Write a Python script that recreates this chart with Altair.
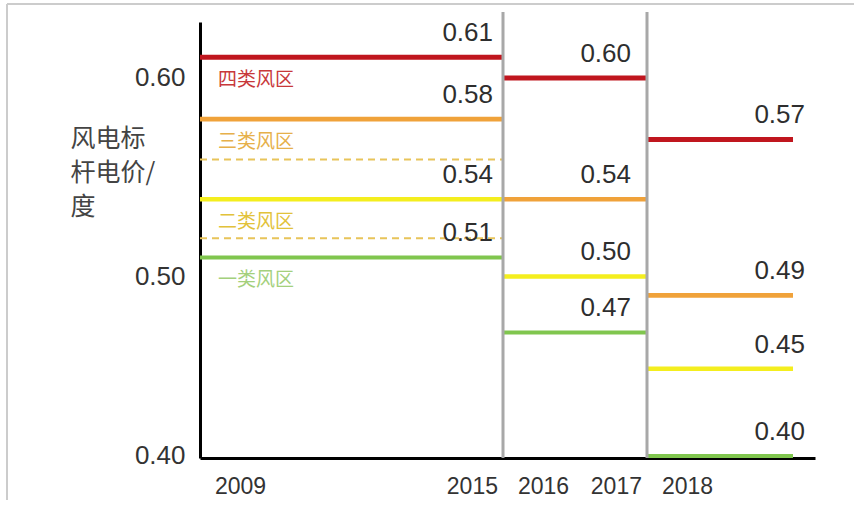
import altair as alt
import pandas as pd

# ---- data ----
periods = ["2009-2015", "2016-2017", "2018"]
period_start = [2009, 2016, 2018]
period_end = [2016, 2018, 2019]
zones = ["四类风区", "三类风区", "二类风区", "一类风区"]
price_2009_2015 = [0.61, 0.58, 0.54, 0.51]
price_2016_2017 = [0.60, 0.54, 0.50, 0.47]
price_2018 = [0.57, 0.49, 0.45, 0.40]
adjusted_2015_zones = ["三类风区", "二类风区"]
adjusted_2015_price = [0.56, 0.52]
year_labels_start = [2009, 2016, 2018]
year_labels_end = [2015, 2017]
y_ticks = [0.40, 0.50, 0.60]
y_title = ["风电标", "杆电价/", "度"]

prices = [price_2009_2015, price_2016_2017, price_2018]
rows = []
for p, s, e, vals in zip(periods, period_start, period_end, prices):
    for z, v in zip(zones, vals):
        rows.append({"period": p, "start": s, "end": e, "zone": z, "price": v,
                     "label": f"{v:.2f}"})
df = pd.DataFrame(rows)

df_adj = pd.DataFrame({"zone": adjusted_2015_zones, "price": adjusted_2015_price,
                       "start": period_start[0], "end": period_end[0]})
df_sep = pd.DataFrame({"start": period_start[1:]})
df_ys = pd.DataFrame({"start": year_labels_start, "label": [str(y) for y in year_labels_start]})
df_ye = pd.DataFrame({"start": [y + 1 for y in year_labels_end],
                      "label": [str(y) for y in year_labels_end]})

# ---- styles ----
line_colors = ["#c0161e", "#f0a23a", "#f4ee1e", "#80c64e"]
label_colors = ["#c8383a", "#e6b04a", "#e2c23a", "#a4d07c"]
line_widths = [5, 4, 6, 4]
NUM_FONT = "Liberation Sans"
CJK_FONT = "Noto Sans CJK SC"

x_scale = alt.Scale(domain=[2009, 2016, 2018, 2019, 2019.15],
                    range=[0, 303, 447, 593, 615])
x_axis = alt.Axis(labels=False, ticks=False, grid=False, domainColor="black",
                  domainWidth=3, title=None)
y_scale = alt.Scale(type="pow", exponent=1.5, domain=[0.3988, 0.6267],
                    nice=False, zero=False)
y_axis = alt.Axis(values=y_ticks, format=".2f", labelFontSize=26, labelFont=NUM_FONT,
                  labelColor="#333333", ticks=False, grid=False, domainColor="black",
                  domainWidth=3, labelPadding=15, title=y_title, titleAngle=0,
                  titleAlign="left", titleBaseline="top", titleX=-130, titleY=104,
                  titleFont=CJK_FONT, titleFontSize=25, titleFontWeight="normal",
                  titleColor="#444444", titleLineHeight=34)

X = alt.X("start:Q", scale=x_scale, axis=x_axis)
Y = alt.Y("price:Q", scale=y_scale, axis=y_axis)

lines = alt.Chart(df).mark_rule().encode(
    x=X, x2="end:Q", y=Y,
    color=alt.Color("zone:N", scale=alt.Scale(domain=zones, range=line_colors), legend=None),
    strokeWidth=alt.StrokeWidth("zone:N", scale=alt.Scale(domain=zones, range=line_widths),
                                legend=None),
)

dashed = alt.Chart(df_adj).mark_rule(strokeDash=[7, 5], strokeWidth=2, color="#e8c45a").encode(
    x=X, x2="end:Q", y=Y)

seps = alt.Chart(df_sep).mark_rule(color="#a8a8a8", strokeWidth=3).encode(
    x=X, y=alt.value(-10), y2=alt.value(436))

def value_labels(period, dx):
    return alt.Chart(df[df["period"] == period]).mark_text(
        align="right", baseline="alphabetic", dx=dx, dy=-16, fontSize=26,
        font=NUM_FONT, color="#2e2e2e").encode(
        x=alt.X("end:Q", scale=x_scale, axis=x_axis), y=Y, text="label:N")

vl1 = value_labels(periods[0], -10)
vl2 = value_labels(periods[1], -16)
vl3 = value_labels(periods[2], 12)

zone_labels = alt.Chart(df[df["period"] == periods[0]]).mark_text(
    align="left", baseline="middle", dx=18, dy=23, fontSize=19, font=CJK_FONT).encode(
    x=X, y=Y, text="zone:N",
    color=alt.Color("zone:N", scale=alt.Scale(domain=zones, range=label_colors), legend=None))

years_s = alt.Chart(df_ys).mark_text(align="left", baseline="middle", dx=15, fontSize=23,
                                     font=NUM_FONT, color="#333333").encode(
    x=X, y=alt.value(465), text="label:N")
years_e = alt.Chart(df_ye).mark_text(align="right", baseline="middle", dx=-5, fontSize=23,
                                     font=NUM_FONT, color="#333333").encode(
    x=X, y=alt.value(465), text="label:N")

frame_top = alt.Chart(df_sep.head(1)).mark_rule(color="#cccccc", strokeWidth=2).encode(
    x=alt.value(-193), x2=alt.value(654), y=alt.value(-18))
frame_left = alt.Chart(df_sep.head(1)).mark_rule(color="#cccccc", strokeWidth=2).encode(
    x=alt.value(-193), y=alt.value(-18), y2=alt.value(478))

chart = alt.layer(
    frame_top, frame_left, dashed, lines, seps, vl1, vl2, vl3, zone_labels, years_s, years_e
).resolve_scale(color="independent").properties(
    width=615, height=436,
    autosize=alt.AutoSizeParams(type="none"),
    padding={"left": 200, "top": 22, "right": 39, "bottom": 48},
    background="white",
).configure_view(stroke=None)

chart.save("out.html", embed_options={"renderer": "svg", "actions": False})
